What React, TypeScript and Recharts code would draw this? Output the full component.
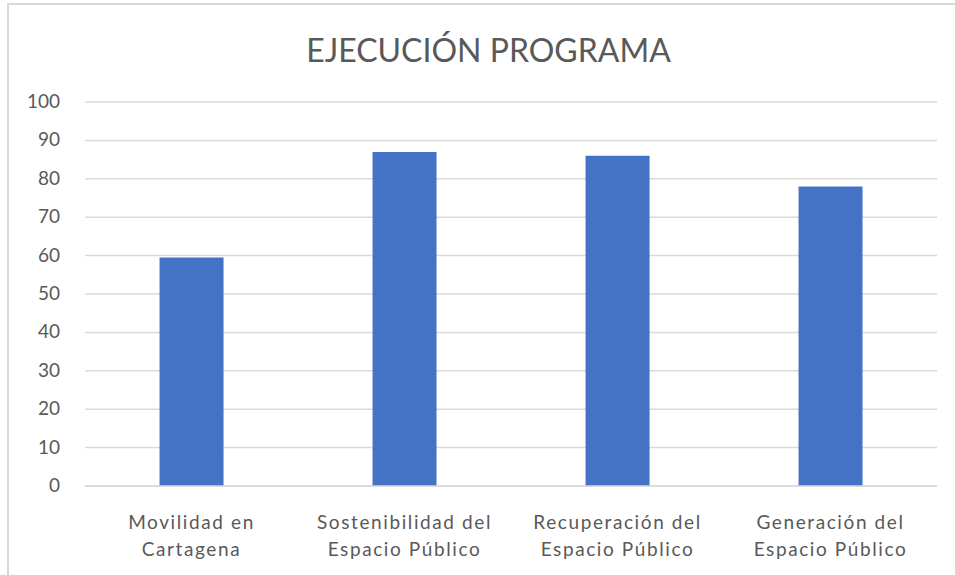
import { BarChart, Bar, XAxis, YAxis, CartesianGrid } from 'recharts'

const categories = [
  'Movilidad en|Cartagena',
  'Sostenibilidad del|Espacio Público',
  'Recuperación del|Espacio Público',
  'Generación del|Espacio Público',
]
const ejecucion = [59.5, 87, 86, 78]
const yTicks = [0, 10, 20, 30, 40, 50, 60, 70, 80, 90, 100]

const data = categories.map((name, i) => ({ name, value: ejecucion[i] }))

const FONT = 'Lato, "Open Sans", sans-serif'
const TEXT = '#595959'

function XTick({ x, y, payload }: any) {
  const lines = String(payload.value).split('|')
  return (
    <text x={x} y={y} textAnchor="middle" fill={TEXT} fontSize={19} fontFamily={FONT} style={{ letterSpacing: '1.6px' }}>
      {lines.map((l, i) => (
        <tspan key={i} x={x} dy={i === 0 ? 35 : 27}>
          {l}
        </tspan>
      ))}
    </text>
  )
}

function YTick({ x, y, payload }: any) {
  return (
    <text x={x - 17} y={y} dy={6} textAnchor="end" fill={TEXT} fontSize={19} fontFamily={FONT}>
      {payload.value}
    </text>
  )
}

export default function App() {
  return (
    <div style={{ position: 'absolute', left: 0, top: 0, width: 955, height: 575, background: '#fff', overflow: 'hidden' }}>
      <div
        style={{
          position: 'absolute',
          left: 7,
          top: 3,
          width: 1000,
          height: 700,
          border: '2px solid #d9d9d9',
          boxSizing: 'border-box',
        }}
      />
      <div
        style={{
          position: 'absolute',
          left: 11,
          top: 30,
          width: 955,
          textAlign: 'center',
          fontFamily: FONT,
          fontSize: 32,
          color: TEXT,
        }}
      >
        EJECUCIÓN PROGRAMA
      </div>
      <div style={{ position: 'absolute', left: 0, top: 0 }}>
        <BarChart
          width={955}
          height={575}
          data={data}
          margin={{ top: 102, right: 18, bottom: 0, left: 25 }}
          barCategoryGap="35%"
        >
          <CartesianGrid vertical={false} stroke="#d9d9d9" strokeWidth={1.5} />
          <XAxis
            dataKey="name"
            axisLine={{ stroke: '#d9d9d9', strokeWidth: 1.5 }}
            tickLine={false}
            tick={<XTick />}
            interval={0}
            height={89}
          />
          <YAxis
            domain={[0, 100]}
            ticks={yTicks}
            axisLine={false}
            tickLine={false}
            tick={<YTick />}
            width={60}
            interval={0}
          />
          <Bar dataKey="value" fill="#4472C4" isAnimationActive={false} />
        </BarChart>
      </div>
    </div>
  )
}
